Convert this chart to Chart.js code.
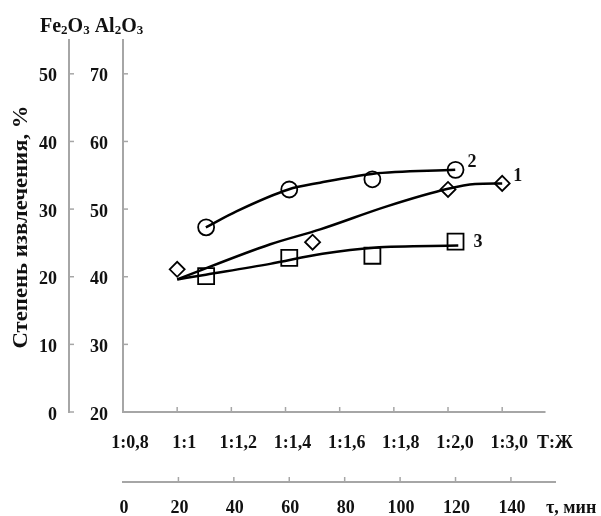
<!DOCTYPE html>
<html>
<head>
<meta charset="utf-8">
<script src="https://cdn.jsdelivr.net/npm/chart.js@4.4.1/dist/chart.umd.min.js"></script>
<style>
  html, body { margin: 0; padding: 0; background: #fff; }
  #wrap { width: 601px; height: 516px; }
</style>
</head>
<body>
<div id="wrap"><canvas id="myChart" width="601" height="516"></canvas></div>
<script>
// ДАННЫЕ
const ratioLabels = ['1:0,8', '1:1', '1:1,2', '1:1,4', '1:1,6', '1:1,8', '1:2,0', '1:3,0']
const minuteTicks = [0, 20, 40, 60, 80, 100, 120, 140]
const feTicks = [0, 10, 20, 30, 40, 50]
const alTicks = [20, 30, 40, 50, 60, 70]

// кривая 1 (ромбы) - по оси Т:Ж
const ratioPos1 = [1, 3.5, 6, 7]
const series1 = [41.1, 45.1, 52.9, 53.8]
const trend1X = [1.0, 2.72, 3.64, 4.87, 6.0, 6.5, 7.0]
const trend1Y = [39.6, 44.8, 47.0, 50.4, 53.0, 53.7, 53.8]

// кривые 2 и 3 - по времени, мин
const minutes = [30, 60, 90, 120]
const series2 = [47.3, 52.9, 54.4, 55.8]
const series3 = [40.1, 42.8, 43.1, 45.2]
const trend2X = [29.9, 41.1, 59.7, 71.1, 89.8, 119.9]
const trend2Y = [47.3, 49.7, 52.9, 53.9, 55.2, 55.8]
const trend3X = [19.6, 29.9, 53.1, 72.0, 90.6, 121]
const trend3Y = [39.6, 40.3, 41.9, 43.4, 44.3, 44.6]

const toXY = (xs, ys) => xs.map((x, i) => ({ x: x, y: ys[i] }))

const serif = "'Liberation Serif', 'Times New Roman', serif"
const txtColor = '#111'
const axisColor = '#a6a6a6'
const tickFont = { family: serif, size: 18, weight: 'bold' }

// оси, подписи, засечки
const extras = {
    id: 'extras',
    beforeDatasetsDraw: (chart) => {
        const ctx = chart.ctx
        const xr = chart.scales.xr
        ctx.save()
        ctx.strokeStyle = axisColor
        ctx.lineWidth = 2
        // линия оси Т:Ж
        ctx.beginPath()
        ctx.moveTo(xr.getPixelForValue(0), xr.top)
        ctx.lineTo(xr.getPixelForValue(7.8), xr.top)
        ctx.stroke()
        ctx.lineWidth = 1.5
        ;['y', 'yo'].forEach(id => {
            const s = chart.scales[id]
            s.ticks.forEach(t => {
                const py = s.getPixelForValue(t.value)
                ctx.beginPath(); ctx.moveTo(s.right, py); ctx.lineTo(s.right + 5, py); ctx.stroke()
            })
        })
        ;['x', 'xr'].forEach(id => {
            const s = chart.scales[id]
            s.ticks.forEach(t => {
                if (t.value === 0) return
                const px = s.getPixelForValue(t.value)
                ctx.beginPath(); ctx.moveTo(px, s.top); ctx.lineTo(px, s.top - 5); ctx.stroke()
            })
        })
        ctx.restore()
    },
    afterDraw: (chart) => {
        const ctx = chart.ctx
        ctx.save()
        ctx.fillStyle = txtColor
        ctx.textBaseline = 'alphabetic'
        ctx.textAlign = 'left'

        // Fe2O3 Al2O3
        const big = 'bold 20px ' + serif
        const small = 'bold 13px ' + serif
        let x = 40
        const parts = [['Fe', big], ['2', small], ['O', big], ['3', small], [' Al', big], ['2', small], ['O', big], ['3', small]]
        parts.forEach(p => {
            ctx.font = p[1]
            ctx.fillText(p[0], x, p[1] === big ? 32 : 34)
            x += ctx.measureText(p[0]).width
        })

        // подписи осей справа
        ctx.font = 'bold 18px ' + serif
        ctx.textBaseline = 'middle'
        ctx.fillText('Т:Ж', 537, 443)
        ctx.fillText('τ, мин', 546, 508)

        // номера кривых
        const sx = chart.scales.x, sxr = chart.scales.xr, sy = chart.scales.y
        ctx.fillText('2', sx.getPixelForValue(minutes[3]) + 12, sy.getPixelForValue(series2[3]) - 8)
        ctx.fillText('1', sxr.getPixelForValue(ratioPos1[3]) + 11, sy.getPixelForValue(series1[3]) - 7)
        ctx.fillText('3', sx.getPixelForValue(minutes[3]) + 18, sy.getPixelForValue(series3[3]) + 1)

        // заголовок оси Y
        const title = 'Степень извлечения, %'
        ctx.font = 'bold 20px ' + serif
        ctx.translate(22, 227)
        ctx.rotate(-Math.PI / 2)
        const w = ctx.measureText(title).width
        ctx.scale(243 / w, 1)
        ctx.textAlign = 'center'
        ctx.fillText(title, 0, 0)
        ctx.restore()
    }
}

const lineDs = (data, xAxis) => ({
    data: data, xAxisID: xAxis, yAxisID: 'y',
    borderColor: '#000', borderWidth: 2.5, pointRadius: 0,
    cubicInterpolationMode: 'monotone', fill: false
})
const markDs = (data, xAxis, style, r) => ({
    data: data, xAxisID: xAxis, yAxisID: 'y', showLine: false,
    pointStyle: style, pointRadius: r, pointBorderWidth: 1.8,
    pointBorderColor: '#000', pointBackgroundColor: 'rgba(0,0,0,0)'
})

new Chart(document.getElementById('myChart'), {
    type: 'line',
    data: {
        datasets: [
            lineDs(toXY(trend1X, trend1Y), 'xr'),
            lineDs(toXY(trend2X, trend2Y), 'x'),
            lineDs(toXY(trend3X, trend3Y), 'x'),
            markDs(toXY(ratioPos1, series1), 'xr', 'rectRot', 7.5),
            markDs(toXY(minutes, series2), 'x', 'circle', 8),
            markDs(toXY(minutes, series3), 'x', 'rect', 11.3)
        ]
    },
    options: {
        responsive: false,
        animation: false,
        layout: { padding: { top: 40, right: 46, left: 0, bottom: 0 } },
        plugins: { legend: { display: false }, tooltip: { enabled: false } },
        scales: {
            x: {
                type: 'linear', position: 'bottom', weight: 1,
                min: 0, max: 155.9,
                afterBuildTicks: (s) => { s.ticks = minuteTicks.map(v => ({ value: v })) },
                afterFit: (s) => { s.height = 34 },
                grid: { display: false, drawTicks: false },
                border: { display: true, color: axisColor, width: 2 },
                ticks: { font: tickFont, color: txtColor, padding: 16, labelOffset: 1, maxRotation: 0, autoSkip: false }
            },
            xr: {
                type: 'linear', position: 'bottom', weight: 0,
                min: 0, max: 7.975,
                afterBuildTicks: (s) => { s.ticks = ratioLabels.map((l, i) => ({ value: i })) },
                afterFit: (s) => { s.height = 70 },
                grid: { display: false, drawTicks: false },
                border: { display: false },
                ticks: { font: tickFont, color: txtColor, padding: 21, labelOffset: 7, maxRotation: 0, autoSkip: false,
                         callback: (v) => ratioLabels[v] }
            },
            y: {
                type: 'linear', position: 'left', weight: 0,
                min: 20, max: 75,
                afterBuildTicks: (s) => { s.ticks = alTicks.map(v => ({ value: v })) },
                afterFit: (s) => { s.width = 54 },
                grid: { display: false, drawTicks: false },
                border: { display: true, color: axisColor, width: 2 },
                ticks: { font: tickFont, color: txtColor, padding: 15, labelOffset: 3 }
            },
            yo: {
                type: 'linear', position: 'left', weight: 1,
                min: 0, max: 55,
                afterBuildTicks: (s) => { s.ticks = feTicks.map(v => ({ value: v })) },
                afterFit: (s) => { s.width = 69 },
                grid: { display: false, drawTicks: false },
                border: { display: true, color: axisColor, width: 2 },
                ticks: { font: tickFont, color: txtColor, padding: 12, labelOffset: 3 }
            }
        }
    },
    plugins: [extras]
})
</script>
</body>
</html>
